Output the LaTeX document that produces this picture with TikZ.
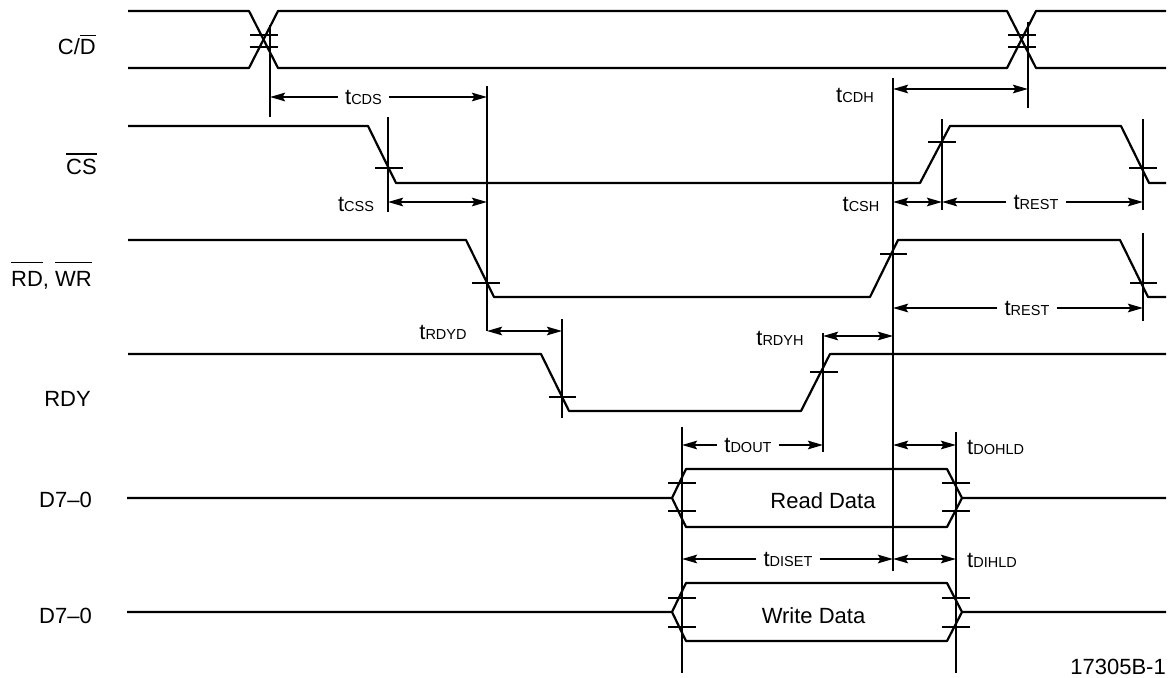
\documentclass[tikz,border=0pt]{standalone}
\usepackage{fontspec}
\setmainfont{Liberation Sans}
\usetikzlibrary{arrows.meta}
\newcommand\ovl[2][3.5pt]{\leavevmode\vbox{\hrule height 1.7pt\kern#1\hbox{#2}}}
\newcommand\tsub[1]{t{\fontsize{14.5}{16}\selectfont #1}}
\tikzset{
  sig/.style={line width=2.2pt, line join=round},
  vl/.style={line width=2.2pt},
  tk/.style={line width=2.2pt},
  tip/.tip={Stealth[length=15pt,width=8.5pt,inset=2.5pt]},
  dim/.style={line width=2.2pt, -tip},
  dimb/.style={line width=2.2pt, tip-tip},
  lab/.style={font=\fontsize{22}{26}\selectfont, inner sep=0pt},
  tl/.style={font=\fontsize{22}{26}\selectfont, inner xsep=7pt, inner ysep=0pt},
}
\begin{document}
\begin{tikzpicture}[x=1pt,y=-1pt]
\useasboundingbox (0,0) rectangle (1169,677);
\fill[white] (0,0) rectangle (1169,677);

% ---------- signal names ----------
\node[lab, anchor=base east] (nCD) at (96,55) {C/\ovl{D}};
\node[lab, anchor=base east] (nCS) at (97,174) {\ovl{CS}};
\node[lab, anchor=base east] (nRW) at (92,286) {\ovl[7.5pt]{RD}, \ovl[7.5pt]{WR}};
\node[lab, anchor=base east] (nRDY) at (91,406) {RDY};
\node[lab, anchor=base east] (nD1) at (92,507) {D7–0};
\node[lab, anchor=base east] (nD2) at (92,623) {D7–0};
\node[lab, anchor=base east] (fig) at (1166,674) {17305B-1};

% ---------- C/D ----------
\draw[sig] (128,11) -- (249,11) -- (278,68) -- (1007,68) -- (1036,11) -- (1166,11);
\draw[sig] (128,68) -- (249,68) -- (278,11) -- (1007,11) -- (1036,68) -- (1166,68);
\draw[tk] (250,35) -- (278,35);
\draw[tk] (250,47) -- (278,47);
\draw[tk] (1008,35) -- (1036,35);
\draw[tk] (1008,47) -- (1036,47);
\coordinate (v1t) at (270,25);  \coordinate (v1b) at (270,117);
\coordinate (v2t) at (1028,22); \coordinate (v2b) at (1028,108);
\draw[vl] (v1t) -- (v1b);
\draw[vl] (v2t) -- (v2b);

% ---------- CS ----------
\draw[sig] (128,126) -- (368,126) -- (396,183) -- (920,183) -- (950,126) -- (1121,126) -- (1149,183) -- (1166,183);
\draw[tk] (375,168) -- (403,168);
\draw[tk] (928,142) -- (956,142);
\draw[tk] (1129,168) -- (1157,168);
\coordinate (v3t) at (388,117);  \coordinate (v3b) at (388,212);
\coordinate (v4t) at (942,119);  \coordinate (v4b) at (942,210);
\coordinate (v5t) at (1143,119); \coordinate (v5b) at (1143,210);
\draw[vl] (v3t) -- (v3b);
\draw[vl] (v4t) -- (v4b);
\draw[vl] (v5t) -- (v5b);

% ---------- RD, WR ----------
\draw[sig] (128,240) -- (466,240) -- (494,297) -- (870,297) -- (898,240) -- (1120,240) -- (1148,297) -- (1166,297);
\draw[tk] (472,283) -- (500,283);
\draw[tk] (880,254) -- (907,254);
\draw[tk] (1130,283) -- (1157,283);
\coordinate (v6t) at (487,86);   \coordinate (v6b) at (487,331);
\coordinate (v7t) at (1143,233); \coordinate (v7b) at (1143,321);
\draw[vl] (v6t) -- (v6b);
\draw[vl] (v7t) -- (v7b);

% ---------- long vertical ----------
\coordinate (vLt) at (893,78); \coordinate (vLb) at (893,571);
\draw[vl] (vLt) -- (vLb);

% ---------- RDY ----------
\draw[sig] (128,354) -- (541,354) -- (569,411) -- (801,411) -- (830,354) -- (1166,354);
\draw[tk] (549,397) -- (576,397);
\draw[tk] (810,372) -- (838,372);
\coordinate (v8t) at (562,319); \coordinate (v8b) at (562,418);
\coordinate (v9t) at (823,333); \coordinate (v9b) at (823,452);
\draw[vl] (v8t) -- (v8b);
\draw[vl] (v9t) -- (v9b);

% ---------- data verticals ----------
\coordinate (vAt) at (682,427); \coordinate (vAb) at (682,673);
\coordinate (vBt) at (956,432); \coordinate (vBb) at (956,673);
\draw[vl] (vAt) -- (vAb);
\draw[vl] (vBt) -- (vBb);

% ---------- Read data ----------
\draw[sig] (127,498) -- (672,498) -- (686,469) -- (947,469) -- (962,498) -- (1166,498);
\draw[sig] (672,498) -- (686,527) -- (947,527) -- (962,498);
\draw[tk] (668,483) -- (696,483);
\draw[tk] (668,511) -- (696,511);
\draw[tk] (942,483) -- (970,483);
\draw[tk] (942,511) -- (970,511);
\node[lab] (rd) at (823,501) {Read Data};

% ---------- Write data ----------
\draw[sig] (127,612) -- (672,612) -- (686,583) -- (947,583) -- (962,612) -- (1166,612);
\draw[sig] (672,612) -- (686,641) -- (947,641) -- (962,612);
\draw[tk] (668,598) -- (696,598);
\draw[tk] (668,627) -- (696,627);
\draw[tk] (942,598) -- (970,598);
\draw[tk] (942,627) -- (970,627);
\node[lab] (wd) at (813.5,616) {Write Data};

% ---------- timing arrows ----------
% tCDS
\coordinate (cdsL) at (270,97); \coordinate (cdsR) at (487,97);
\node[tl] (lCDS) at (363.5,97) {\tsub{CDS}};
\draw[dim] (lCDS.west) -- (cdsL);
\draw[dim] (lCDS.east) -- (cdsR);
% tCDH
\coordinate (cdhL) at (893,89); \coordinate (cdhR) at (1028,89);
\draw[dimb] (cdhL) -- (cdhR);
\node[lab] (lCDH) at (855,95) {\tsub{CDH}};
% tCSS
\coordinate (cssL) at (388,202); \coordinate (cssR) at (487,202);
\draw[dimb] (cssL) -- (cssR);
\node[lab] (lCSS) at (356,204) {\tsub{CSS}};
% tCSH
\coordinate (cshL) at (893,202); \coordinate (cshR) at (942,202);
\draw[dimb] (cshL) -- (cshR);
\node[lab] (lCSH) at (861,204) {\tsub{CSH}};
% tREST upper
\coordinate (r1L) at (942,202); \coordinate (r1R) at (1143,202);
\node[tl] (lR1) at (1036,202) {\tsub{REST}};
\draw[dim] (lR1.west) -- (r1L);
\draw[dim] (lR1.east) -- (r1R);
% tREST lower
\coordinate (r2L) at (893,308); \coordinate (r2R) at (1143,308);
\node[tl] (lR2) at (1027,308) {\tsub{REST}};
\draw[dim] (lR2.west) -- (r2L);
\draw[dim] (lR2.east) -- (r2R);
% tRDYD
\coordinate (rydL) at (487,331); \coordinate (rydR) at (562,331);
\draw[dimb] (rydL) -- (rydR);
\node[lab] (lRYD) at (443,332) {\tsub{RDYD}};
% tRDYH
\coordinate (ryhL) at (823,336); \coordinate (ryhR) at (893,336);
\draw[dimb] (ryhL) -- (ryhR);
\node[lab] (lRYH) at (780,338) {\tsub{RDYH}};
% tDOUT
\coordinate (doL) at (682,445); \coordinate (doR) at (823,445);
\node[tl] (lDO) at (748,445) {\tsub{DOUT}};
\draw[dim] (lDO.west) -- (doL);
\draw[dim] (lDO.east) -- (doR);
% tDOHLD
\coordinate (dohL) at (893,445); \coordinate (dohR) at (956,445);
\draw[dimb] (dohL) -- (dohR);
\node[lab, anchor=west] (lDOH) at (967,447) {\tsub{DOHLD}};
% tDISET
\coordinate (diL) at (682,559); \coordinate (diR) at (893,559);
\node[tl] (lDI) at (788,559) {\tsub{DISET}};
\draw[dim] (lDI.west) -- (diL);
\draw[dim] (lDI.east) -- (diR);
% tDIHLD
\coordinate (dihL) at (893,559); \coordinate (dihR) at (956,559);
\draw[dimb] (dihL) -- (dihR);
\node[lab, anchor=west] (lDIH) at (967,560) {\tsub{DIHLD}};
\end{tikzpicture}
\end{document}
